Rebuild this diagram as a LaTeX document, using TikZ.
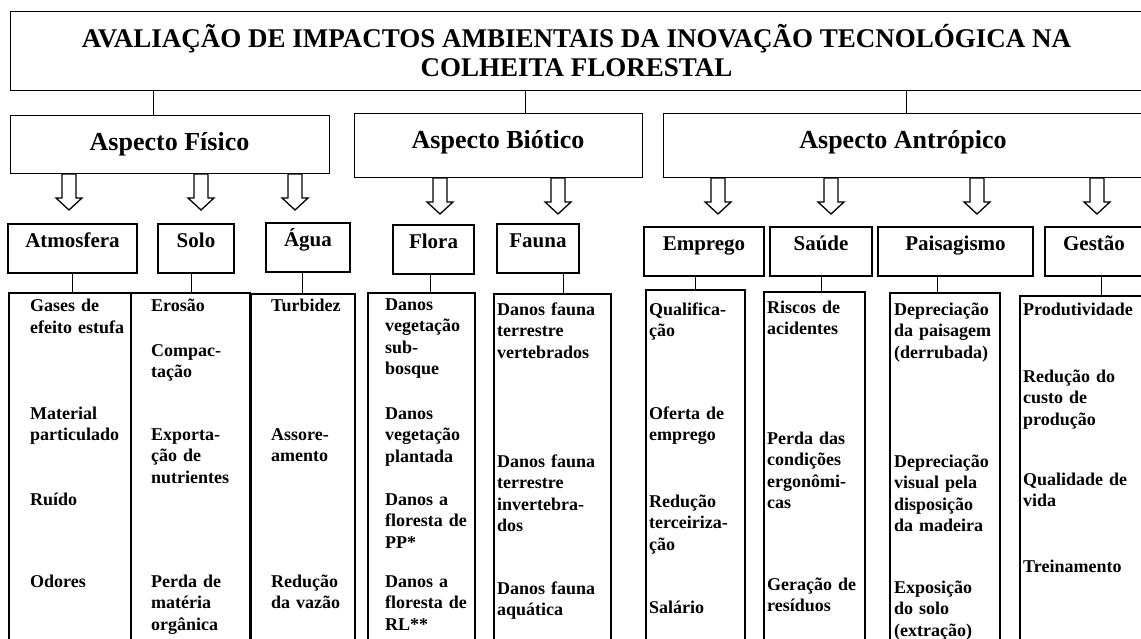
\documentclass[tikz,border=0pt]{standalone}
\usepackage{fontspec}
\setmainfont{Liberation Serif}
\usepackage{tikz}

\newcommand{\hollowarrow}[1]{\draw[arrowline] (#1) ++(-7,0) -- ++(14,0) -- ++(0,24) -- ++(6,0) -- ++(-13,12) -- ++(-13,-12) -- ++(6,0) -- cycle;}

\tikzset{
  titlebox/.style={rectangle,draw,line width=1pt,inner sep=0pt,anchor=north,align=center,
    font=\fontsize{27}{29}\selectfont\bfseries},
  aspectbox/.style={rectangle,draw,line width=1pt,inner sep=0pt,anchor=north,text height=35pt,
    font=\fontsize{26}{30}\selectfont\bfseries},
  subbox/.style={rectangle,draw,line width=2pt,inner sep=0pt,anchor=north,text height=24pt,text depth=25pt,
    font=\fontsize{21}{25}\selectfont\bfseries},
  listbox/.style={rectangle,draw,line width=2pt,inner sep=0pt,anchor=north west,minimum height=370pt},
  item/.style={anchor=base west,inner sep=0pt,text width=125pt,align=left,
    font=\fontsize{18}{21.6}\selectfont\bfseries},
  link/.style={draw,line width=1pt},
  arrowline/.style={draw,line width=1.3pt,line join=miter},
}

\begin{document}
\begin{tikzpicture}[x=1pt,y=-1pt]
\clip (0,0) rectangle (1141,639);

% title and aspects
\node[titlebox,minimum width=1133pt,minimum height=79pt] (title) at (576.5,11)
  {AVALIAÇÃO DE IMPACTOS AMBIENTAIS DA INOVAÇÃO TECNOLÓGICA NA\\COLHEITA FLORESTAL};
\node[aspectbox,minimum width=319pt,text depth=23pt] (fisico) at (169.5,115) {Aspecto Físico};
\node[aspectbox,minimum width=288pt,text depth=29pt] (biotico) at (498,113) {Aspecto Biótico};
\node[aspectbox,minimum width=480pt,text depth=29pt] (antropico) at (903,113) {Aspecto Antrópico};

\foreach \a/\dx in {fisico/-16.5,biotico/27,antropico/3} {
  \path ([xshift=\dx pt]\a.north) coordinate (top-\a);
  \draw[link] (top-\a |- title.south) -- (top-\a);
}

% hollow arrows
\foreach \ax in {69,201,295} {\hollowarrow{\ax,0 |- fisico.south}}
\foreach \ax in {440,558} {\hollowarrow{\ax,0 |- biotico.south}}
\foreach \ax in {718,831,977,1097} {\hollowarrow{\ax,0 |- antropico.south}}

% components
\node[subbox,minimum width=129pt] (atm) at (72.5,223) {Atmosfera};
\node[subbox,minimum width=76pt] (solo) at (196,223) {Solo};
\node[subbox,minimum width=84pt] (agua) at (308,222) {Água};
\node[subbox,minimum width=81pt] (flora) at (433.5,224) {Flora};
\node[subbox,minimum width=82pt] (fauna) at (538,223) {Fauna};
\node[subbox,minimum width=120pt] (emprego) at (704,226) {Emprego};
\node[subbox,minimum width=102pt] (saude) at (821,226) {Saúde};
\node[subbox,minimum width=155pt] (paisag) at (955.5,226) {Paisagismo};
\node[subbox,minimum width=98pt] (gestao) at (1094,226) {Gestão};

% impact lists
\node[listbox,minimum width=122pt] (atmlist) at (8,292) {};
\node[listbox,minimum width=119pt] (sololist) at (130,292) {};
\node[listbox,minimum width=104pt] (agualist) at (250,293) {};
\node[listbox,minimum width=107pt] (floralist) at (367,292) {};
\node[listbox,minimum width=117pt] (faunalist) at (493,293) {};
\node[listbox,minimum width=99pt] (empregolist) at (645,289) {};
\node[listbox,minimum width=101pt] (saudelist) at (763,291) {};
\node[listbox,minimum width=110pt] (paisaglist) at (889,292) {};
\node[listbox,minimum width=126pt] (gestaolist) at (1019,295) {};

\foreach \a/\dx in {atm/0,solo/-5,agua/-6,flora/-3.5,fauna/25,emprego/-9,saude/0,paisag/-18.5,gestao/7} {
  \path ([xshift=\dx pt]\a.south) coordinate (foot-\a);
  \draw[link] (foot-\a) -- (foot-\a |- \a list.north);
}

\foreach \y/\t [count=\i] in {312/{Gases de\\efeito estufa},419/{Material\\particulado},505/{Ruído},587/{Odores}}
  \node[item] (atm\i) at (30,\y) {\t};
\foreach \y/\t [count=\i] in {312/{Erosão},356/{Compac-\\tação},440/{Exporta-\\ção de\\nutrientes},587/{Perda de\\matéria\\orgânica}}
  \node[item] (solo\i) at (151,\y) {\t};
\foreach \y/\t [count=\i] in {312/{Turbidez},440/{Assore-\\amento},587/{Redução\\da vazão}}
  \node[item] (agua\i) at (271,\y) {\t};
\foreach \y/\t [count=\i] in {310/{Danos\\vegetação\\sub-\\bosque},419/{Danos\\vegetação\\plantada},505/{Danos a\\floresta de\\PP*},587/{Danos a\\floresta de\\RL**}}
  \node[item] (flora\i) at (385,\y) {\t};
\foreach \y/\t [count=\i] in {315/{Danos fauna\\terrestre\\vertebrados},467/{Danos fauna\\terrestre\\invertebra-\\dos},594/{Danos fauna\\aquática}}
  \node[item] (fauna\i) at (497,\y) {\t};
\foreach \y/\t [count=\i] in {315/{Qualifica-\\ção},419/{Oferta de\\emprego},507/{Redução\\terceiriza-\\ção},613/{Salário}}
  \node[item] (emprego\i) at (649,\y) {\t};
\foreach \y/\t [count=\i] in {313/{Riscos de\\acidentes},444/{Perda das\\condições\\ergonômi-\\cas},590/{Geração de\\resíduos}}
  \node[item] (saude\i) at (767,\y) {\t};
\foreach \y/\t [count=\i] in {315/{Depreciação\\da paisagem\\(derrubada)},467/{Depreciação\\visual pela\\disposição\\da madeira},593/{Exposição\\do solo\\(extração)}}
  \node[item] (paisag\i) at (894,\y) {\t};
\foreach \y/\t [count=\i] in {315/{Produtividade},382/{Redução do\\custo de\\produção},485/{Qualidade de\\vida},572/{Treinamento}}
  \node[item] (gestao\i) at (1023,\y) {\t};
\end{tikzpicture}
\end{document}
